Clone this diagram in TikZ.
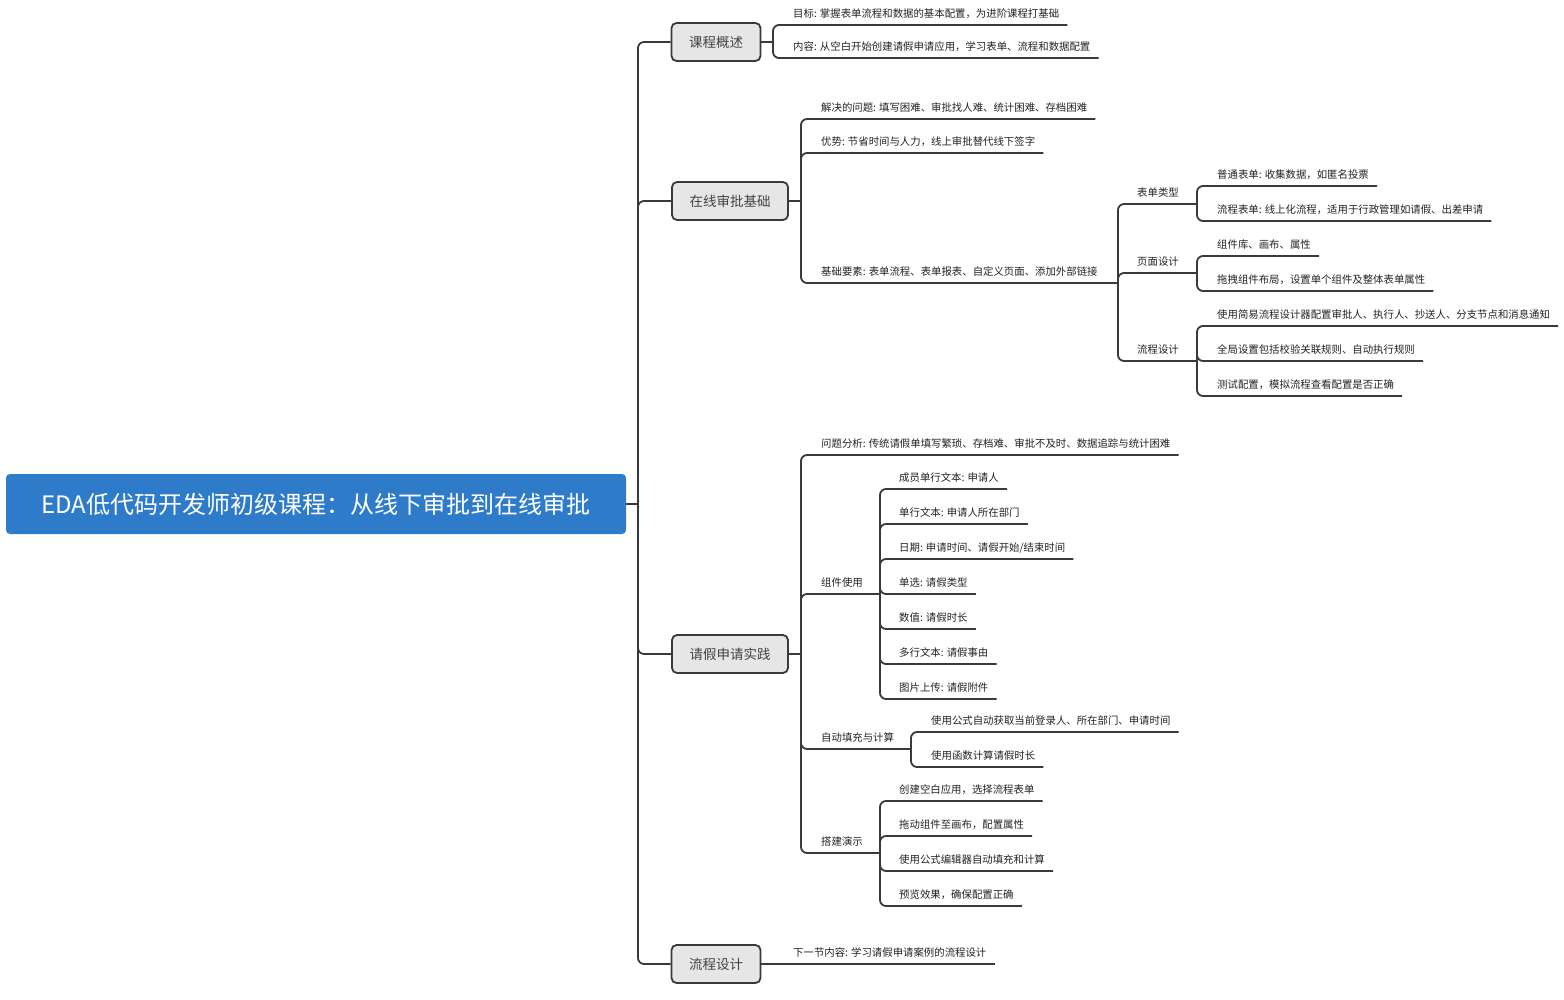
\documentclass[tikz,border=0pt]{standalone}
\usepackage{fontspec}
\setmainfont{Noto Sans CJK SC}
\definecolor{linec}{HTML}{3A3A3A}
\definecolor{rootblue}{HTML}{2E7BC9}
\definecolor{boxfill}{HTML}{E6E6E6}
\definecolor{txt}{HTML}{222222}
\newcommand\leafto[2]{\draw[conn] (#1) |- ([xshift=8pt,yshift=-11pt]#2.east);}
\begin{document}
\begin{tikzpicture}[x=1pt,y=-1pt,
  conn/.style={draw=linec, line width=1.8pt, rounded corners=6pt},
  leaf/.style={anchor=west, inner sep=0pt, yshift=-1pt, text=txt, font=\fontsize{10.4pt}{12pt}\selectfont},
  mainbox/.style={draw=linec, line width=1.8pt, fill=boxfill, rounded corners=5pt,
    minimum height=38pt, inner xsep=17.5pt, inner ysep=0pt, text=txt!85,
    font=\fontsize{13.5pt}{16pt}\selectfont},
  rootbox/.style={fill=rootblue, rounded corners=4pt, minimum width=620pt,
    minimum height=60pt, inner sep=0pt, text=white, font=\fontsize{24pt}{28pt}\selectfont}]
\useasboundingbox (0,0) rectangle (1564,1000);

% root and main branches
\node[rootbox] (root) at (316,504) {EDA低代码开发师初级课程：从线下审批到在线审批};
\coordinate (T) at (638,504);
\node[mainbox] (b1) at (716,42) {课程概述};
\node[mainbox] (b2) at (730,201) {在线审批基础};
\node[mainbox] (b3) at (730,654) {请假申请实践};
\node[mainbox] (b4) at (716,964) {流程设计};
\draw[conn] (root.east) -- (T);
\foreach \b in {b1,b2,b3,b4} \draw[conn] (T) |- (\b.west);

% 课程概述
\coordinate (j1) at (773,42);
\draw[conn] (b1.east) -- (j1);
\node[leaf] (l11) at (793,13) {目标: 掌握表单流程和数据的基本配置，为进阶课程打基础};
\node[leaf] (l12) at (793,46) {内容: 从空白开始创建请假申请应用，学习表单、流程和数据配置};
\leafto{j1}{l11}
\leafto{j1}{l12}

% 在线审批基础
\coordinate (j2) at (801,201);
\draw[conn] (b2.east) -- (j2);
\node[leaf] (l21) at (821,107) {解决的问题: 填写困难、审批找人难、统计困难、存档困难};
\node[leaf] (l22) at (821,141) {优势: 节省时间与人力，线上审批替代线下签字};
\node[leaf] (l23) at (821,271) {基础要素: 表单流程、表单报表、自定义页面、添加外部链接};
\leafto{j2}{l21}
\leafto{j2}{l22}
\coordinate (j23) at (1118,283);
\draw[conn] (j2) |- (j23);

\node[leaf] (l231) at (1137,192) {表单类型};
\node[leaf] (l232) at (1137,261) {页面设计};
\node[leaf] (l233) at (1137,349) {流程设计};
\coordinate (j231) at (1197,204);
\coordinate (j232) at (1197,273);
\coordinate (j233) at (1197,361);
\draw[conn] (j23) |- (j231);
\draw[conn] (j23) |- (j232);
\draw[conn] (j23) |- (j233);

\node[leaf] (m1) at (1217,174) {普通表单: 收集数据，如匿名投票};
\node[leaf] (m2) at (1217,209) {流程表单: 线上化流程，适用于行政管理如请假、出差申请};
\node[leaf] (m3) at (1217,244) {组件库、画布、属性};
\node[leaf] (m4) at (1217,279) {拖拽组件布局，设置单个组件及整体表单属性};
\node[leaf] (m5) at (1217,314) {使用简易流程设计器配置审批人、执行人、抄送人、分支节点和消息通知};
\node[leaf] (m6) at (1217,349) {全局设置包括校验关联规则、自动执行规则};
\node[leaf] (m7) at (1217,384) {测试配置，模拟流程查看配置是否正确};
\leafto{j231}{m1}
\leafto{j231}{m2}
\leafto{j232}{m3}
\leafto{j232}{m4}
\leafto{j233}{m5}
\leafto{j233}{m6}
\leafto{j233}{m7}

% 请假申请实践
\coordinate (j3) at (801,654);
\draw[conn] (b3.east) -- (j3);
\node[leaf] (l31) at (821,443) {问题分析: 传统请假单填写繁琐、存档难、审批不及时、数据追踪与统计困难};
\node[leaf] (l32) at (821,582) {组件使用};
\node[leaf] (l33) at (821,737) {自动填充与计算};
\node[leaf] (l34) at (821,841) {搭建演示};
\leafto{j3}{l31}
\coordinate (j32) at (880,594);
\coordinate (j33) at (911,749);
\coordinate (j34) at (880,853);
\draw[conn] (j3) |- (j32);
\draw[conn] (j3) |- (j33);
\draw[conn] (j3) |- (j34);

\node[leaf] (n1) at (899,477) {成员单行文本: 申请人};
\node[leaf] (n2) at (899,512) {单行文本: 申请人所在部门};
\node[leaf] (n3) at (899,547) {日期: 申请时间、请假开始/结束时间};
\node[leaf] (n4) at (899,582) {单选: 请假类型};
\node[leaf] (n5) at (899,617) {数值: 请假时长};
\node[leaf] (n6) at (899,652) {多行文本: 请假事由};
\node[leaf] (n7) at (899,687) {图片上传: 请假附件};
\foreach \n in {n1,n2,n3,n4,n5,n6,n7} {\leafto{j32}{\n}}

\node[leaf] (p1) at (931,720) {使用公式自动获取当前登录人、所在部门、申请时间};
\node[leaf] (p2) at (931,755) {使用函数计算请假时长};
\leafto{j33}{p1}
\leafto{j33}{p2}

\node[leaf] (q1) at (899,789) {创建空白应用，选择流程表单};
\node[leaf] (q2) at (899,824) {拖动组件至画布，配置属性};
\node[leaf] (q3) at (899,859) {使用公式编辑器自动填充和计算};
\node[leaf] (q4) at (899,894) {预览效果，确保配置正确};
\foreach \q in {q1,q2,q3,q4} {\leafto{j34}{\q}}

% 流程设计
\node[leaf] (l41) at (793,952) {下一节内容: 学习请假申请案例的流程设计};
\draw[conn] (b4.east) -- ([xshift=8pt,yshift=-11pt]l41.east);
\end{tikzpicture}
\end{document}
